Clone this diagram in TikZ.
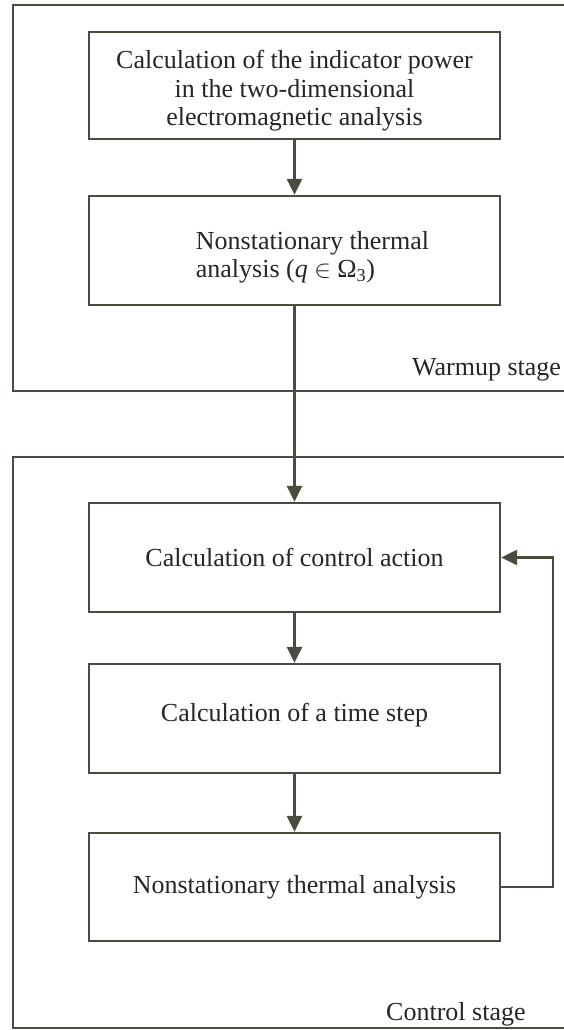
\documentclass[tikz,border=0pt]{standalone}
\usepackage{fontspec}
\setmainfont{Liberation Serif}
\usetikzlibrary{arrows.meta}
\definecolor{linec}{HTML}{4B4B3F}
\definecolor{textc}{HTML}{262622}
\begin{document}
\begin{tikzpicture}[x=1pt,y=-1pt,
  every node/.style={text=textc},
  procbox/.style={draw=linec,line width=2.3pt,rectangle,minimum width=411pt,inner sep=0pt,
     font=\fontsize{26}{28.5}\selectfont,align=center},
  stagebox/.style={draw=linec,line width=2.3pt,rectangle,minimum width=555pt,inner sep=0pt},
  stagelabel/.style={anchor=base west,inner sep=0pt,font=\fontsize{26}{28.5}\selectfont},
  flow/.style={draw=linec,line width=2.3pt,-{Triangle[length=16pt,width=15pt]}}]
\useasboundingbox (0,0) rectangle (564,1030);
\clip (0,0) rectangle (564,1030);
\fill[white] (0,0) rectangle (564,1030);
% stage frames
\node[stagebox,minimum height=386pt] (warm) at (290.5,198) {};
\node[stagebox,minimum height=571pt] (ctrl) at (290.5,742.5) {};
\node[stagelabel] (warmlab) at (412,375) {Warmup stage};
\node[stagelabel] (ctrllab) at (386,1020) {Control stage};
% process boxes
\node[procbox,minimum height=107pt] (b1) at (294.5,85.5)
  {\rule{0pt}{29pt}Calculation of the indicator power\\in the two-dimensional\\electromagnetic analysis};
\node[procbox,minimum height=109pt,align=left] (b2) at (294.5,250.5)
  {\rule{0pt}{32pt}\hspace*{36pt}Nonstationary thermal\\\hspace*{36pt}analysis (\textit{q} $\in$ Ω\textsubscript{3})};
\node[procbox,minimum height=109pt] (b3) at (294.5,557.5) {Calculation of control action};
\node[procbox,minimum height=109pt] (b4) at (294.5,718.5) {Calculation of a time step\rule[-12pt]{0pt}{12pt}};
\node[procbox,minimum height=108pt] (b5) at (294.5,887) {Nonstationary thermal analysis};
% connectors
\coordinate (fb) at (553,887);
\draw[flow] (b1.south) -- (b2.north);
\draw[flow] (b2.south) -- (b3.north);
\draw[flow] (b3.south) -- (b4.north);
\draw[flow] (b4.south) -- (b5.north);
\draw[flow] (b5.east) -- (fb) |- (b3.east);
\end{tikzpicture}
\end{document}
